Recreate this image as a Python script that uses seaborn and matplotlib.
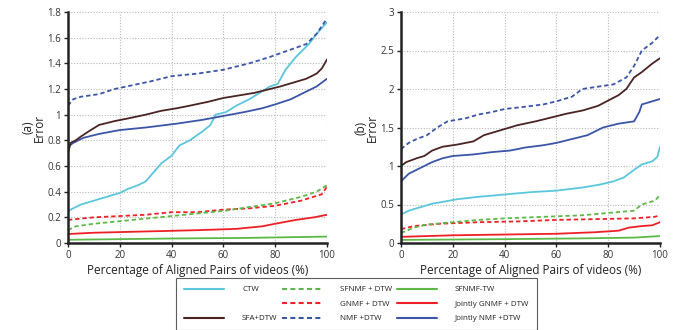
import numpy as np
import pandas as pd
import matplotlib
matplotlib.use("Agg")
import matplotlib.pyplot as plt
from matplotlib.lines import Line2D
import seaborn as sns

# ---------------- data: panel (a) ----------------
a_ctw_x = [0, 5, 10, 15, 20, 23, 27, 30, 33, 36, 40, 43, 47, 52, 55, 57, 61, 65, 70, 74, 78, 81, 84, 88, 93, 96, 100]
a_ctw_y = [0.25, 0.30, 0.33, 0.36, 0.39, 0.42, 0.45, 0.48, 0.55, 0.62, 0.68, 0.76, 0.80, 0.87, 0.92, 1.00, 1.02, 1.07, 1.12, 1.17, 1.22, 1.24, 1.35, 1.45, 1.55, 1.63, 1.72]
a_sfa_x = [0, 1, 3, 5, 8, 12, 18, 23, 30, 36, 42, 47, 54, 60, 66, 72, 78, 82, 87, 92, 96, 98, 100]
a_sfa_y = [0.70, 0.78, 0.80, 0.83, 0.87, 0.92, 0.95, 0.97, 1.00, 1.03, 1.05, 1.07, 1.10, 1.13, 1.15, 1.17, 1.20, 1.22, 1.25, 1.28, 1.32, 1.36, 1.43]
a_jnmf_x = [0, 2, 6, 12, 20, 30, 42, 52, 60, 68, 75, 80, 86, 91, 96, 100]
a_jnmf_y = [0.75, 0.78, 0.82, 0.85, 0.88, 0.90, 0.93, 0.96, 0.99, 1.02, 1.05, 1.08, 1.12, 1.17, 1.22, 1.28]
a_nmf_x = [0, 2, 5, 12, 18, 25, 32, 40, 50, 60, 70, 78, 85, 92, 96, 100]
a_nmf_y = [1.07, 1.12, 1.14, 1.16, 1.20, 1.23, 1.26, 1.30, 1.32, 1.35, 1.40, 1.45, 1.50, 1.55, 1.63, 1.75]
a_sfnmf_x = [0, 3, 10, 20, 30, 40, 50, 60, 70, 80, 90, 96, 100]
a_sfnmf_y = [0.10, 0.13, 0.15, 0.17, 0.19, 0.21, 0.23, 0.25, 0.28, 0.31, 0.36, 0.40, 0.45]
a_gnmf_x = [0, 10, 20, 30, 40, 50, 60, 70, 80, 90, 98, 100]
a_gnmf_y = [0.18, 0.20, 0.21, 0.22, 0.24, 0.24, 0.26, 0.27, 0.29, 0.33, 0.38, 0.44]
a_jgnmf_x = [0, 10, 30, 50, 65, 75, 80, 88, 95, 100]
a_jgnmf_y = [0.07, 0.08, 0.09, 0.10, 0.11, 0.13, 0.15, 0.18, 0.20, 0.22]
a_sftw_x = [0, 40, 70, 100]
a_sftw_y = [0.025, 0.035, 0.04, 0.05]

# ---------------- data: panel (b) ----------------
b_nmf_x = [0, 3, 6, 10, 14, 18, 25, 30, 35, 40, 48, 55, 60, 66, 70, 76, 82, 87, 90, 93, 97, 100]
b_nmf_y = [1.22, 1.30, 1.35, 1.40, 1.50, 1.58, 1.62, 1.67, 1.70, 1.74, 1.77, 1.80, 1.84, 1.90, 2.00, 2.03, 2.06, 2.15, 2.30, 2.50, 2.60, 2.70]
b_sfa_x = [0, 2, 6, 9, 12, 16, 22, 28, 32, 40, 45, 52, 58, 64, 70, 76, 80, 84, 87, 90, 93, 97, 100]
b_sfa_y = [1.00, 1.05, 1.10, 1.13, 1.20, 1.25, 1.28, 1.32, 1.40, 1.48, 1.53, 1.58, 1.63, 1.68, 1.72, 1.78, 1.85, 1.92, 2.00, 2.15, 2.22, 2.33, 2.40]
b_jnmf_x = [0, 3, 6, 9, 12, 16, 20, 28, 35, 42, 48, 55, 60, 66, 72, 78, 84, 90, 92, 93, 96, 100]
b_jnmf_y = [0.80, 0.90, 0.95, 1.00, 1.05, 1.10, 1.13, 1.15, 1.18, 1.20, 1.24, 1.27, 1.30, 1.35, 1.40, 1.50, 1.55, 1.58, 1.70, 1.80, 1.83, 1.87]
b_ctw_x = [0, 3, 8, 12, 17, 22, 30, 40, 50, 60, 70, 77, 82, 86, 90, 93, 97, 99, 100]
b_ctw_y = [0.37, 0.42, 0.47, 0.51, 0.54, 0.57, 0.60, 0.63, 0.66, 0.68, 0.72, 0.76, 0.80, 0.85, 0.95, 1.02, 1.06, 1.12, 1.25]
b_sfnmf_x = [0, 5, 10, 20, 30, 40, 55, 70, 80, 90, 93, 98, 100]
b_sfnmf_y = [0.13, 0.20, 0.24, 0.27, 0.30, 0.32, 0.34, 0.36, 0.39, 0.42, 0.50, 0.55, 0.62]
b_gnmf_x = [0, 5, 15, 30, 45, 60, 75, 90, 98, 100]
b_gnmf_y = [0.18, 0.22, 0.25, 0.27, 0.28, 0.30, 0.31, 0.32, 0.34, 0.36]
b_jgnmf_x = [0, 20, 40, 60, 75, 84, 88, 93, 97, 100]
b_jgnmf_y = [0.08, 0.10, 0.11, 0.12, 0.14, 0.16, 0.20, 0.22, 0.23, 0.27]
b_sftw_x = [0, 40, 70, 90, 100]
b_sftw_y = [0.04, 0.05, 0.06, 0.07, 0.09]

names = ["CTW", "SFA+DTW", "SFNMF + DTW", "GNMF + DTW", "NMF +DTW",
         "SFNMF-TW", "Jointly GNMF + DTW", "Jointly NMF +DTW"]

a_ticks = [0, 0.2, 0.4, 0.6, 0.8, 1.0, 1.2, 1.4, 1.6, 1.8]
a_ticklabels = ["0", "0.2", "0.4", "0.6", "0.8", "1", "1.2", "1.4", "1.6", "1.8"]
b_ticks = [0, 0.5, 1.0, 1.5, 2.0, 2.5, 3.0]
b_ticklabels = ["0", "0.5", "1", "1.5", "2", "2.5", "3"]
x_ticks = [0, 20, 40, 60, 80, 100]

# ---------------- styles ----------------
CYAN = "#5ac6dd"
BROWN = "#4a2422"
BLUE = "#3a55a8"
GREEN = "#5cb947"
RED = "#ee2026"
DASH = (0, (2.4, 1.6))
style = {
    "CTW": (CYAN, "-"),
    "SFA+DTW": (BROWN, "-"),
    "SFNMF + DTW": (GREEN, DASH),
    "GNMF + DTW": (RED, DASH),
    "NMF +DTW": (BLUE, DASH),
    "SFNMF-TW": (GREEN, "-"),
    "Jointly GNMF + DTW": (RED, "-"),
    "Jointly NMF +DTW": (BLUE, "-"),
}

panel_a = {
    "SFNMF-TW": (a_sftw_x, a_sftw_y),
    "Jointly GNMF + DTW": (a_jgnmf_x, a_jgnmf_y),
    "GNMF + DTW": (a_gnmf_x, a_gnmf_y),
    "SFNMF + DTW": (a_sfnmf_x, a_sfnmf_y),
    "CTW": (a_ctw_x, a_ctw_y),
    "Jointly NMF +DTW": (a_jnmf_x, a_jnmf_y),
    "SFA+DTW": (a_sfa_x, a_sfa_y),
    "NMF +DTW": (a_nmf_x, a_nmf_y),
}
panel_b = {
    "SFNMF-TW": (b_sftw_x, b_sftw_y),
    "Jointly GNMF + DTW": (b_jgnmf_x, b_jgnmf_y),
    "GNMF + DTW": (b_gnmf_x, b_gnmf_y),
    "SFNMF + DTW": (b_sfnmf_x, b_sfnmf_y),
    "CTW": (b_ctw_x, b_ctw_y),
    "Jointly NMF +DTW": (b_jnmf_x, b_jnmf_y),
    "SFA+DTW": (b_sfa_x, b_sfa_y),
    "NMF +DTW": (b_nmf_x, b_nmf_y),
}

sns.set_theme(style="white")
plt.rcParams["font.family"] = ["Open Sans", "DejaVu Sans"]

fig = plt.figure(figsize=(6.81, 3.30), dpi=100)
ax_a = fig.add_axes([68 / 681, 1 - 243 / 330, 259 / 681, 231 / 330])
ax_b = fig.add_axes([401 / 681, 1 - 243 / 330, 259 / 681, 231 / 330])


def draw(ax, panel, ticks, ticklabels, ymax, tag):
    for name, (xs, ys) in panel.items():
        col, ls = style[name]
        df = pd.DataFrame({"x": xs, "y": ys})
        sns.lineplot(data=df, x="x", y="y", ax=ax, color=col, linestyle=ls,
                     linewidth=1.3, estimator=None, sort=False)
    ax.set_xlim(0, 100)
    ax.set_ylim(0, ymax)
    ax.set_xticks(x_ticks)
    ax.set_xticklabels([str(t) for t in x_ticks])
    ax.set_yticks(ticks)
    ax.set_yticklabels(ticklabels)
    ax.grid(True, color="#b8b8b8", linestyle=(0, (1, 1.5)), linewidth=0.8)
    ax.set_axisbelow(True)
    for s in ["top", "right"]:
        ax.spines[s].set_visible(False)
    for s in ["left", "bottom"]:
        ax.spines[s].set_color("#222222")
        ax.spines[s].set_linewidth(1.8)
    ax.tick_params(axis="both", direction="out", length=3, width=1.0,
                   color="#222222", labelsize=7, labelcolor="#333333", pad=2,
                   left=True, bottom=True)
    ax.set_xlabel("Percentage of Aligned Pairs of videos (%)", fontsize=8.5,
                  color="#222222", labelpad=2)
    ax.set_ylabel(tag + "\nError", fontsize=8.5, color="#222222",
                  labelpad=1, linespacing=0.85)


draw(ax_a, panel_a, a_ticks, a_ticklabels, 1.8, "(a)")
draw(ax_b, panel_b, b_ticks, b_ticklabels, 3.0, "(b)")

# legend (column-wise order, one empty slot)
order = ["CTW", None, "SFA+DTW", "SFNMF + DTW", "GNMF + DTW", "NMF +DTW",
         "SFNMF-TW", "Jointly GNMF + DTW", "Jointly NMF +DTW"]
handles, labels = [], []
for name in order:
    if name is None:
        handles.append(Line2D([], [], color="none"))
        labels.append(" ")
    else:
        col, ls = style[name]
        handles.append(Line2D([], [], color=col, linestyle=ls, linewidth=1.5))
        labels.append(name)

leg = fig.legend(handles, labels, ncol=3, loc="upper left",
                 bbox_to_anchor=(176 / 681, 1 - 281 / 330, 361 / 681, 0.01),
                 mode="expand", fontsize=5.8, frameon=True, fancybox=False,
                 edgecolor="#333333", handlelength=5.0, handletextpad=2.2,
                 labelspacing=0.85, borderpad=1.0, columnspacing=1.0,
                 borderaxespad=0)
leg.get_frame().set_linewidth(0.8)
for t in leg.get_texts():
    t.set_color("#222222")

fig.savefig("out.png", dpi=100)
